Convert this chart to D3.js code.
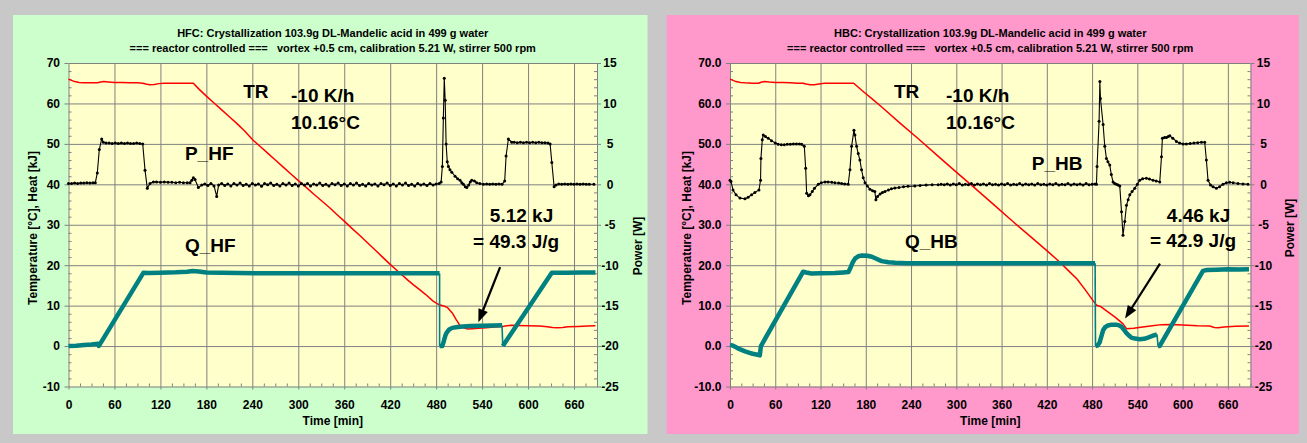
<!DOCTYPE html>
<html>
<head>
<meta charset="utf-8">
<script src="https://cdn.jsdelivr.net/npm/d3@7"></script>
<style>
  html, body { margin: 0; padding: 0; background: #c8c8c8; }
  svg { display: block; }
  text { white-space: pre; }
</style>
</head>
<body>
<svg id="chart" width="1307" height="443"></svg>
<script>
// ---- axis ticks -------------------------------------------------------
const timeTicks  = [0, 60, 120, 180, 240, 300, 360, 420, 480, 540, 600, 660];
const tempTicks  = [-10, 0, 10, 20, 30, 40, 50, 60, 70];
const powerTicks = [-25, -20, -15, -10, -5, 0, 5, 10, 15];

// ---- titles -----------------------------------------------------------
const hfcTitle = ["HFC: Crystallization 103.9g DL-Mandelic acid in 499 g water",
                  "=== reactor controlled ===   vortex +0.5 cm, calibration 5.21 W, stirrer 500 rpm"];
const hbcTitle = ["HBC: Crystallization 103.9g DL-Mandelic acid in 499 g water",
                  "=== reactor controlled ===   vortex +0.5 cm, calibration 5.21 W, stirrer 500 rpm"];

// ---- HFC run: reactor temperature TR [°C] vs time [min] ----------------
const hfcTR = [[0,66],[4,65.7],[8,65.4],[14,65.2],[20,65.1],[30,65.1],[38,65.1],[42,65.3],[46,65.4],[52,65.3],
  [60,65.2],[70,65.2],[80,65.1],[90,65.1],[97,65.0],[101,64.8],[106,64.6],[112,64.7],[118,64.9],[125,65.0],
  [135,65.0],[145,65.0],[155,65.0],[163,65.0],[170,63.6],[180,61.8],[190,60.1],[200,58.4],[210,56.7],[220,55.0],
  [230,53.2],[241,50.9],[250,49.4],[260,47.7],[270,46.0],[280,44.3],[290,42.6],[302,40.6],[310,39.3],[320,37.6],
  [330,36.0],[341,34.2],[350,32.6],[360,30.9],[370,29.1],[380,27.4],[390,25.6],[400,23.8],[410,22.0],[420,20.2],
  [430,18.5],[443,16.3],[450,15.2],[458,14.0],[466,12.8],[476,11.1],[484,10.2],[490,9.9],[495,9.5],[501,8.2],
  [506,6.6],[511,5.1],[516,4.5],[521,4.2],[527,4.3],[535,4.4],[545,4.5],[556,4.7],[567,4.85],[572,5.0],
  [578,5.15],[585,5.1],[600,5.0],[615,4.95],[625,4.8],[632,4.6],[638,4.5],[645,4.6],[652,4.8],[665,4.85],
  [678,4.95],[688,5.0]];

// ---- HFC run: heat flow power P_HF [W] --------------------------------
const hfcPower = [[0,0.1],[4,0.1],[8,0.15],[12,0.1],[16,0.15],[20,0.15],[24,0.2],[28,0.15],[32,0.2],[35,0.2],
  [37.6,1.4],[40.2,4.3],[43.3,5.6],[45.5,5.2],[49,5.1],[53,5.1],[57,5.05],[61,5.1],[65,5.05],[69,5.1],[73,5.05],
  [77,5.1],[81,5.05],[85,5.05],[89,5.1],[93,5.05],[96.9,5.0],[99.9,1.75],[102.9,-0.5],[106.4,0.1],[110.8,0.3],
  [115,0.3],[120,0.25],[125,0.3],[130,0.25],[135,0.25],[140,0.2],[145,0.25],[150,0.2],[155,0.2],[158.7,0.2],
  [161,0.5],[163,0.8],[165.2,0.6],[169.5,-0.4],[174,-0.1],[178,0.05],[182,-0.15],[186,0.1],[190,-0.2],
  [193.5,-1.5],[196,-0.1],[200,0.1],[204,-0.15],[208,0.05],[212,-0.2],[216,0.1],[220,-0.1],[224,0.15],
  [228,-0.15],[232,0.0],[236,-0.2],[240,0.1],[244,-0.1],[248,0.05],[252,-0.25],[256,0.1],[260,-0.05],
  [264,0.15],[268,-0.15],[272,0.0],[276,-0.2],[280,0.1],[284,-0.1],[288,0.15],[292,-0.15],[296,0.05],
  [300,-0.2],[304,0.1],[308,-0.1],[312,0.1],[316,-0.2],[320,0.05],[324,-0.1],[328,0.15],[332,-0.15],
  [336,0.0],[340,-0.2],[344,0.1],[348,-0.05],[352,0.15],[356,-0.15],[360,0.05],[364,-0.2],[368,0.1],
  [372,-0.1],[376,0.15],[380,-0.15],[384,0.0],[388,-0.2],[392,0.1],[396,-0.1],[400,0.05],[404,-0.2],
  [408,0.1],[412,-0.05],[416,0.15],[420,-0.15],[424,0.05],[428,-0.2],[432,0.1],[436,-0.1],[440,0.15],
  [444,-0.15],[448,0.0],[452,-0.2],[456,0.1],[460,-0.1],[464,0.05],[468,-0.15],[472,0.1],[476,-0.1],
  [480,0.05],[484,0.1],[486.5,0.3],[488.1,2.2],[489.4,8.2],[490.6,13.1],[491.8,10.4],[493,5.0],[494.5,2.8],
  [496,2.2],[498,1.8],[500.4,1.5],[504.7,1.0],[508,0.7],[511.2,0.5],[513.5,0.2],[515.6,0.0],[518,-0.3],
  [520,-0.4],[522.5,-0.1],[524.5,0.3],[526.5,0.5],[530,0.4],[533,0.2],[537,0.1],[541.7,0.0],[546,0.05],
  [550,0.0],[554,0.05],[558,0.0],[562,0.05],[566,0.0],[569.5,0.4],[571.3,3.5],[574.3,5.6],[578.7,5.2],
  [582,5.2],[586,5.15],[590,5.2],[594,5.15],[598,5.2],[602,5.15],[606,5.2],[610,5.15],[614,5.2],[618,5.15],
  [622,5.15],[626,5.1],[628.8,5.0],[631,2.7],[634,-0.3],[636.5,-0.1],[640,0.05],[644,0.0],[648,0.05],
  [652,0.0],[656,0.05],[660,0.0],[664,0.05],[668,0.0],[672,0.05],[676,0.0],[680,0.0],[686,0.0]];

// ---- HFC run: integrated heat Q_HF [kJ], one array per integration ---
const hfcHeat = [
  [[0,0],[10,0.1],[20,0.25],[30,0.4],[38.5,0.6],[39.5,0.05],[40.5,0.3],[97.7,18.1],[105,18.05],[120,18.15],
   [140,18.25],[155,18.4],[162,18.55],[170,18.45],[180,18.2],[200,18.1],[250,18.0],[300,18.0],[350,18.0],
   [400,18.0],[450,18.0],[484.5,18.0]],
  [[484.5,0],[488,0],[490,1.2],[492,2.6],[494,3.4],[497,4.1],[501,4.5],[508,4.7],[515,4.85],[525,4.95],
   [540,5.03],[555,5.08],[566,5.12]],
  [[567,0],[631,18.1],[650,18.15],[670,18.2],[688,18.2]]
];

// ---- HBC run: reactor temperature TR [°C] -----------------------------
const hbcTR = [[0,66],[4,65.7],[8,65.4],[14,65.2],[20,65.1],[30,65.0],[38,65.0],[42,65.3],[46,65.4],[52,65.3],
  [60,65.2],[70,65.2],[80,65.1],[90,65.0],[97,65.0],[101,64.8],[106,64.6],[112,64.6],[118,64.8],[125,65.0],
  [140,65.0],[155,65.0],[164,65.0],[175,63.2],[188,61.2],[200,59.3],[225,55.2],[250,51.2],[275,47.1],
  [300,43.0],[325,39.0],[350,34.9],[375,30.8],[400,26.8],[420,23.6],[437,20.8],[450,18.4],[460,16.6],
  [471,13.9],[481,11.3],[486,10.1],[491,9.8],[500,8.6],[510,7.2],[516,6.3],[521,5.5],[525.6,4.3],[535,4.4],
  [547,4.7],[560,5.0],[572,5.3],[583,5.35],[600,5.2],[620,5.0],[636,4.95],[642,4.6],[647,4.5],[655,4.7],
  [670,4.9],[688,4.95]];

// ---- HBC run: heat balance power P_HB [W] ----------------------------
const hbcPower = [[0,0.5],[1.3,0.35],[4,-0.7],[8,-1.3],[13.2,-1.7],[19.9,-1.8],[24,-1.6],[28.7,-1.3],[33,-1.0],
  [38.4,-0.7],[40.5,0.5],[41,3.2],[42.8,5.5],[44.1,6.1],[47,5.9],[50.7,5.7],[55,5.4],[60,5.1],[64,4.95],
  [68,4.9],[72,4.9],[76,4.95],[80,4.95],[84,5.0],[88,5.0],[92,5.0],[95,4.95],[98.5,4.7],[100.3,2.0],
  [101.6,-1.1],[104,-1.4],[106,-1.3],[109,-0.9],[112,-0.5],[117,0.0],[121,0.2],[125.9,0.3],[130,0.3],
  [135,0.25],[139,0.2],[144,0.15],[148,0.1],[152,0.05],[156.7,0.0],[159,1.8],[161.2,4.7],[164.3,6.7],
  [165.6,6.1],[167.8,4.7],[170,3.8],[172.2,3.0],[174.4,1.8],[176.6,0.8],[179,0.2],[182,-0.2],[185.5,-0.6],
  [189,-0.8],[192,-0.9],[193.4,-1.9],[195.6,-1.5],[199,-1.2],[202,-1.0],[205.4,-0.9],[210,-0.7],[214,-0.55],
  [218.6,-0.47],[224,-0.4],[230,-0.3],[236,-0.25],[245,-0.2],[252,-0.15],[260,-0.1],[268,-0.05],[276,-0.05],
  [280,0.0],[284,-0.05],[288,0.05],[292,-0.1],[296,0.05],[300,-0.05],[304,0.1],[308,-0.1],[312,0.0],
  [316,-0.05],[320,0.1],[324,-0.1],[328,0.05],[332,-0.05],[336,0.05],[340,-0.1],[344,0.1],[348,-0.05],
  [352,0.0],[356,-0.1],[360,0.05],[364,-0.05],[368,0.1],[372,-0.1],[376,0.0],[380,-0.05],[384,0.1],
  [388,-0.1],[392,0.05],[396,-0.05],[400,0.05],[404,-0.1],[408,0.1],[412,-0.05],[416,0.0],[420,-0.1],
  [424,0.05],[428,-0.05],[432,0.1],[436,-0.1],[440,0.0],[444,-0.05],[448,0.1],[452,-0.1],[456,0.05],
  [460,-0.05],[464,0.05],[468,-0.1],[472,0.1],[476,-0.05],[480,0.0],[484,0.05],[485.8,0.0],[486.6,2.2],
  [489.3,7.8],[490.3,12.7],[491.1,10.6],[494.6,7.4],[496.8,4.7],[499,3.2],[501,2.8],[503.4,2.4],[505.5,1.2],
  [507.8,0.3],[510,0.1],[512.3,0.0],[514.5,-0.1],[516.7,-0.2],[519,-3.4],[521,-6.3],[523.3,-4.6],
  [525.6,-2.6],[527.8,-1.9],[530,-1.3],[533,-0.9],[536.6,-0.5],[540,0.0],[543.2,0.5],[547,0.7],[552,0.75],
  [556,0.65],[560.8,0.5],[565,0.4],[569.7,0.3],[572,3.4],[573.2,5.7],[576,5.8],[578.6,5.8],[581,5.9],
  [583,6.0],[587,5.7],[591.8,5.3],[596,5.1],[600.6,5.0],[605,5.0],[610,5.05],[615,5.1],[620,5.15],
  [625,5.2],[629.3,5.2],[631.5,3.0],[633.7,0.5],[637,-0.1],[640.3,-0.3],[644.8,-0.5],[649,-0.3],
  [653.5,0.0],[658,0.2],[662.4,0.25],[667,0.2],[673.4,0.1],[680,0.05],[686.7,0.0]];

// ---- HBC run: integrated heat Q_HB [kJ] ------------------------------
const hbcHeat = [
  [[0,0.3],[4,0.1],[8,-0.3],[12,-0.7],[16,-1.0],[20,-1.3],[25,-1.6],[30,-1.9],[35,-2.1],[39.5,-2.3],
   [41,0.0],[97,18.4],[101,18.2],[108,17.95],[120,18.0],[139,18.05],[150,18.2],[157,18.3],[160,19.5],
   [163,20.8],[166,21.7],[170,22.2],[175,22.4],[182,22.35],[188,22.1],[194,21.6],[201,21.0],[210,20.75],
   [219,20.6],[235,20.5],[254,20.5],[300,20.5],[400,20.5],[484,20.5]],
  [[484.5,0],[487,0.1],[490,0.9],[492.5,2.5],[494.6,3.9],[497,4.6],[501,5.1],[506,5.3],[512,5.3],[516,5.1],
   [519,4.8],[522,4.1],[525.6,3.2],[529,2.6],[532,2.1],[537,1.85],[543,1.7],[549,1.8],[554,2.1],[560,2.5],
   [566,2.9]],
  [[567.5,0],[569.5,0],[627,18.6],[632,18.8],[645,18.9],[660,19.0],[675,18.95],[688,19.0]]
];

// ---- page layout ------------------------------------------------------
const FONT = "'Liberation Sans', Arial, Helvetica, sans-serif";
const GRID = "#808080";
const TEAL = "#008080";
const TIME_MAX = 690;

const panels = [
  {
    bg: "#ccffcc",
    frame: { x0: 13, y0: 15, x1: 647.5, y1: 434 },
    plot: { left: 68.5, right: 597, top: 63, bottom: 386.5 },
    title: hfcTitle,
    tempFormat: d => String(d),
    tempTitle: { x: 37, y: 228 },
    powerTitle: { x: 642, y: 246 },
    tr: hfcTR, power: hfcPower, heat: hfcHeat,
    notes: [
      { text: "TR",         t: 228,   v: 61.3, anchor: "start" },
      { text: "-10 K/h",    t: 290.5, v: 60.3, anchor: "start" },
      { text: "10.16°C",    t: 290.5, v: 53.8, anchor: "start" },
      { text: "P_HF",       t: 152,   v: 46.0, anchor: "start" },
      { text: "Q_HF",       t: 152,   v: 23.3, anchor: "start" },
      { text: "5.12 kJ",    t: 591.5, v: 30.6, anchor: "middle" },
      { text: "= 49.3 J/g", t: 584.4, v: 24.2, anchor: "middle" }
    ],
    arrow: { from: [563.5, 19.5], to: [535.1, 5.9] }
  },
  {
    bg: "#ff99cc",
    frame: { x0: 666.5, y0: 15, x1: 1299, y1: 434 },
    plot: { left: 730, right: 1250.5, top: 63, bottom: 386.5 },
    title: hbcTitle,
    tempFormat: d => d.toFixed(1),
    tempTitle: { x: 690.5, y: 228 },
    powerTitle: { x: 1294, y: 228 },
    tr: hbcTR, power: hbcPower, heat: hbcHeat,
    notes: [
      { text: "TR",         t: 217.4, v: 61.3, anchor: "start" },
      { text: "-10 K/h",    t: 286.4, v: 60.3, anchor: "start" },
      { text: "10.16°C",    t: 286.4, v: 53.8, anchor: "start" },
      { text: "P_HB",       t: 400,   v: 43.5, anchor: "start" },
      { text: "Q_HB",       t: 232,   v: 24.2, anchor: "start" },
      { text: "4.46 kJ",    t: 621.1, v: 30.6, anchor: "middle" },
      { text: "= 42.9 J/g", t: 613.8, v: 24.4, anchor: "middle" }
    ],
    arrow: { from: [570, 20.4], to: [523.7, 6.8] }
  }
];

const svg = d3.select("#chart").attr("font-family", FONT);
svg.append("rect").attr("width", 1307).attr("height", 443).attr("fill", "#c8c8c8");

function styleAxis(sel, fontSize) {
  sel.attr("font-family", FONT).attr("font-size", fontSize);
  sel.selectAll(".domain").attr("stroke", GRID).attr("stroke-width", 1);
  sel.selectAll(".tick line").attr("stroke", GRID).attr("stroke-width", 1);
  sel.selectAll(".tick text").attr("fill", "#000").attr("font-weight", "bold");
}

function drawPanel(p) {
  const g = svg.append("g");
  const { left, right, top, bottom } = p.plot;

  g.append("rect")
    .attr("x", p.frame.x0).attr("y", p.frame.y0)
    .attr("width", p.frame.x1 - p.frame.x0).attr("height", p.frame.y1 - p.frame.y0)
    .attr("fill", p.bg);

  const x  = d3.scaleLinear().domain([0, TIME_MAX]).range([left, right]);
  const yT = d3.scaleLinear().domain([-10, 70]).range([bottom, top]);
  const yP = d3.scaleLinear().domain([-25, 15]).range([bottom, top]);

  // plot area
  g.append("rect")
    .attr("x", x(0)).attr("y", yT(70))
    .attr("width", x(TIME_MAX) - x(0)).attr("height", yT(-10) - yT(70))
    .attr("fill", "#ffffcc");

  // grid lines
  const vGrid = g.append("g").attr("transform", `translate(0,${bottom})`)
    .call(d3.axisBottom(x).tickValues(timeTicks.filter(d => d > 0))
      .tickSize(-(bottom - top)).tickFormat(() => ""));
  vGrid.select(".domain").remove();
  styleAxis(vGrid, 12);
  const hGrid = g.append("g").attr("transform", `translate(${left},0)`)
    .call(d3.axisLeft(yT).tickValues(tempTicks.filter(d => d > -10))
      .tickSize(-(right - left)).tickFormat(() => ""));
  hGrid.select(".domain").remove();
  styleAxis(hGrid, 12);

  // minor ticks (inside the plot)
  const minorTime  = d3.range(0, TIME_MAX + 1, 15).filter(d => d % 60 !== 0);
  const minorTemp  = d3.range(-10, 71, 2).filter(d => d % 10 !== 0);
  const minorPower = d3.range(-25, 16, 1).filter(d => d % 5 !== 0);
  const mx = g.append("g").attr("transform", `translate(0,${bottom})`)
    .call(d3.axisBottom(x).tickValues(minorTime).tickSize(-3).tickFormat(() => ""));
  mx.select(".domain").remove(); styleAxis(mx, 12);
  const ml = g.append("g").attr("transform", `translate(${left},0)`)
    .call(d3.axisLeft(yT).tickValues(minorTemp).tickSize(-3).tickFormat(() => ""));
  ml.select(".domain").remove(); styleAxis(ml, 12);
  const mr = g.append("g").attr("transform", `translate(${right},0)`)
    .call(d3.axisRight(yP).tickValues(minorPower).tickSize(-3).tickFormat(() => ""));
  mr.select(".domain").remove(); styleAxis(mr, 12);

  // main axes
  const ax = g.append("g").attr("transform", `translate(0,${bottom})`)
    .call(d3.axisBottom(x).tickValues(timeTicks).tickSizeInner(3).tickSizeOuter(0).tickPadding(10.5)
      .tickFormat(d => String(d)));
  styleAxis(ax, 12);
  const al = g.append("g").attr("transform", `translate(${left},0)`)
    .call(d3.axisLeft(yT).tickValues(tempTicks).tickSizeInner(4).tickSizeOuter(0).tickPadding(4.5)
      .tickFormat(p.tempFormat));
  styleAxis(al, 12);
  const ar = g.append("g").attr("transform", `translate(${right},0)`)
    .call(d3.axisRight(yP).tickValues(powerTicks).tickSizeInner(4).tickSizeOuter(0).tickPadding(4)
      .tickFormat(d => String(d)));
  styleAxis(ar, 12);
  ar.selectAll(".tick text").attr("text-anchor", "middle").attr("x", 13);

  // titles
  const cx = (left + right) / 2;
  g.append("text").attr("x", cx).attr("y", 37).attr("text-anchor", "middle")
    .attr("font-size", 11).attr("font-weight", "bold").attr("xml:space", "preserve").text(p.title[0]);
  g.append("text").attr("x", cx).attr("y", 52).attr("text-anchor", "middle")
    .attr("font-size", 11).attr("font-weight", "bold").attr("xml:space", "preserve").text(p.title[1]);

  g.append("text").attr("x", cx).attr("y", 425).attr("text-anchor", "middle")
    .attr("font-size", 12).attr("font-weight", "bold").text("Time [min]");
  g.append("text")
    .attr("transform", `translate(${p.tempTitle.x},${p.tempTitle.y}) rotate(-90)`)
    .attr("text-anchor", "middle").attr("font-size", 12).attr("font-weight", "bold")
    .text("Temperature [°C], Heat [kJ]");
  g.append("text")
    .attr("transform", `translate(${p.powerTitle.x},${p.powerTitle.y}) rotate(-90)`)
    .attr("text-anchor", "middle").attr("font-size", 12).attr("font-weight", "bold")
    .text("Power [W]");

  // series
  const lineT = d3.line().x(d => x(d[0])).y(d => yT(d[1]));
  const lineP = d3.line().x(d => x(d[0])).y(d => yP(d[1]));

  g.append("path").datum(p.tr).attr("d", lineT)
    .attr("fill", "none").attr("stroke", "#ff0000").attr("stroke-width", 1.5)
    .attr("stroke-linejoin", "round");

  // thin resets between successive heat integrations
  for (let i = 0; i < p.heat.length - 1; i++) {
    const a = p.heat[i][p.heat[i].length - 1], b = p.heat[i + 1][0];
    g.append("path").datum([a, b]).attr("d", lineT)
      .attr("fill", "none").attr("stroke", TEAL).attr("stroke-width", 1.6);
  }
  g.selectAll(null).data(p.heat).join("path").attr("d", lineT)
    .attr("fill", "none").attr("stroke", TEAL).attr("stroke-width", 4.5)
    .attr("stroke-linejoin", "round").attr("stroke-linecap", "butt");

  g.append("path").datum(p.power).attr("d", lineP)
    .attr("fill", "none").attr("stroke", "#000").attr("stroke-width", 1.1);
  g.selectAll(null).data(p.power).join("circle")
    .attr("cx", d => x(d[0])).attr("cy", d => yP(d[1])).attr("r", 1.5).attr("fill", "#000");

  // annotations
  g.selectAll(null).data(p.notes).join("text")
    .attr("x", d => x(d.t)).attr("y", d => yT(d.v))
    .attr("text-anchor", d => d.anchor)
    .attr("font-size", 19).attr("font-weight", "bold").attr("fill", "#000")
    .text(d => d.text);

  // arrow to the crystallisation heat
  const x1 = x(p.arrow.from[0]), y1 = yT(p.arrow.from[1]);
  const x2 = x(p.arrow.to[0]),   y2 = yT(p.arrow.to[1]);
  const len = Math.hypot(x2 - x1, y2 - y1), ux = (x2 - x1) / len, uy = (y2 - y1) / len;
  const head = 13, half = 5;
  const bx = x2 - ux * head, by = y2 - uy * head;
  g.append("line").attr("x1", x1).attr("y1", y1).attr("x2", bx + ux * 2).attr("y2", by + uy * 2)
    .attr("stroke", "#000").attr("stroke-width", 2.2);
  g.append("path")
    .attr("d", `M${x2},${y2}L${bx - uy * half},${by + ux * half}L${bx + uy * half},${by - ux * half}Z`)
    .attr("fill", "#000");
}

panels.forEach(drawPanel);
</script>
</body>
</html>
